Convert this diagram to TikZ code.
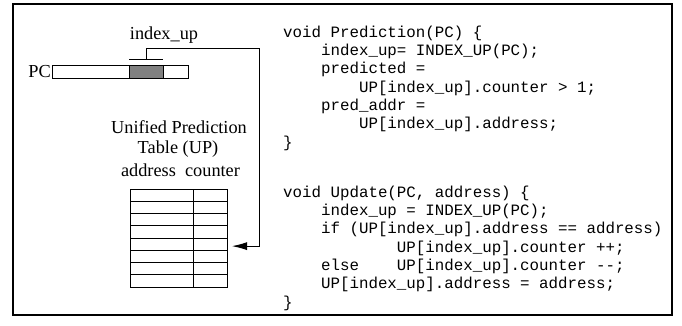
\documentclass[tikz,border=0pt]{standalone}
\usepackage{fontspec}
\setmainfont{Liberation Serif}
\setmonofont{Liberation Mono}
\usetikzlibrary{positioning,arrows.meta}

\newcommand{\codeind}[1]{\hspace*{#1\fontcharwd\font`x}}

\tikzset{
  lbl/.style={font=\fontsize{18.3}{20}\selectfont, inner sep=0pt},
  code/.style={font=\ttfamily\fontsize{15.8}{18.33}\selectfont, align=left, anchor=base west, inner sep=0pt},
  cell/.style={draw, line width=0.9pt, minimum height=12.25pt, inner sep=0pt, outer sep=0pt},
  bar/.style={draw, line width=0.9pt, minimum height=12.5pt, inner sep=0pt, outer sep=0pt}
}

\begin{document}
\begin{tikzpicture}[x=1pt,y=-1pt]
\useasboundingbox (0,0) rectangle (682,325);
\draw [line width=1.2pt] (13,4) rectangle (672,315);

\node [bar, minimum width=136pt] (pcbar) at (120,72) {};
\node [bar, minimum width=34pt, fill=black!50] (idx) at (146,72) {};
\node [lbl, left=1pt of pcbar] (pc) {PC};
\node [lbl, anchor=base] (idxlbl) at (164,39.5) {index\_up};

\node [lbl, anchor=base] (title) at (179,133) {Unified Prediction};
\node [lbl, anchor=base] (title2) at (178,153) {Table (UP)};
\node [lbl, anchor=base] (cols) at (180.5,176) {address\ \ counter};

\foreach \i in {1,...,8} {
  \node [cell, minimum width=63pt] (addr\i) at (161.5,{189+12.25*(\i-0.5)}) {};
  \node [cell, minimum width=34pt, right=0pt of addr\i] (cnt\i) {};
}

\draw [line width=0.9pt] ([yshift=6pt]idx.north west) -- ([yshift=6pt]idx.north east);
\coordinate (turn) at (259,48);
\coordinate (tip) at ([xshift=5pt,yshift=-2pt]cnt5.east);
\draw [line width=0.9pt, -{Latex[length=15pt,width=8pt]}] ([yshift=6pt]idx.north) |- (turn) |- (tip);

% base anchor sits on the last line
\node [code] (pred) at (283,147) {void Prediction(PC) \{\\
\codeind{4}index\_up= INDEX\_UP(PC);\\
\codeind{4}predicted =\\
\codeind{8}UP[index\_up].counter > 1;\\
\codeind{4}pred\_addr =\\
\codeind{8}UP[index\_up].address;\\
\}};

\node [code] (upd) at (283,307) {void Update(PC, address) \{\\
\codeind{4}index\_up = INDEX\_UP(PC);\\
\codeind{4}if (UP[index\_up].address == address)\\
\codeind{12}UP[index\_up].counter ++;\\
\codeind{4}else\codeind{4}UP[index\_up].counter --;\\
\codeind{4}UP[index\_up].address = address;\\
\}};
\end{tikzpicture}
\end{document}
